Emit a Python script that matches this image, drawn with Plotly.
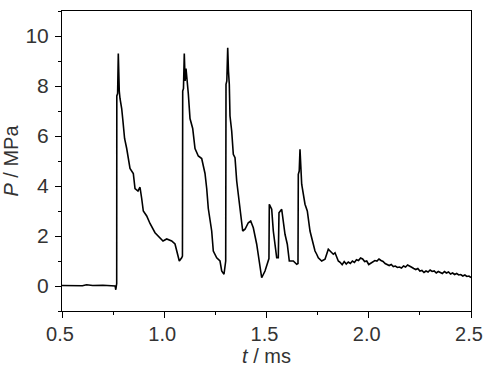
import plotly.graph_objects as go

# time (ms) and pressure (MPa)
t_ms = [
    0.50, 0.55, 0.60, 0.62, 0.65, 0.70, 0.74, 0.760, 0.763, 0.766, 0.7675,
    0.768, 0.772, 0.7753, 0.777, 0.7787, 0.780, 0.7836, 0.7919, 0.798, 0.8032, 0.806,
    0.8164, 0.825, 0.8325, 0.8487, 0.857, 0.8716, 0.8814, 0.8897, 0.8976, 0.9142,
    0.9303, 0.9548, 0.9792, 0.9939, 1.012, 1.0364, 1.0526, 1.0609, 1.0736, 1.0853, 1.089,
    1.0902, 1.094, 1.098, 1.102, 1.1064, 1.1127, 1.1176, 1.1259, 1.1391, 1.1504, 1.1665,
    1.1831, 1.1993, 1.2076, 1.2154, 1.232, 1.2399, 1.2565, 1.2726, 1.2809, 1.2922, 1.3005,
    1.302, 1.306, 1.3103, 1.314, 1.3181, 1.3215, 1.3298, 1.3377, 1.346, 1.3543, 1.3704,
    1.3836, 1.3949, 1.411, 1.4227, 1.4355, 1.4521, 1.4648, 1.4765, 1.4927, 1.5088, 1.5120,
    1.5137, 1.5254, 1.5333, 1.5416, 1.5499, 1.5577,
    1.5611, 1.5743, 1.5822, 1.5905, 1.6017, 1.6115, 1.6311, 1.6477, 1.654,
    1.6555, 1.660, 1.6638, 1.6721, 1.6883, 1.6995, 1.7127, 1.7289, 1.7372, 1.7455, 1.7533,
    1.7699, 1.7861, 1.8022, 1.8188, 1.8267, 1.835, 1.8511,
    1.86, 1.87, 1.88, 1.89, 1.90, 1.91, 1.92, 1.93, 1.94, 1.95, 1.96, 1.97, 1.98, 1.99,
    2.00, 2.01, 2.02, 2.03, 2.04, 2.05, 2.06, 2.07, 2.08, 2.09, 2.10, 2.11, 2.12, 2.13,
    2.14, 2.15, 2.16, 2.17, 2.18, 2.19, 2.20, 2.21, 2.22, 2.23, 2.24, 2.25, 2.26, 2.27,
    2.28, 2.29, 2.30, 2.31, 2.32, 2.33, 2.34, 2.35, 2.36, 2.37, 2.38, 2.39, 2.40, 2.41,
    2.42, 2.43, 2.44, 2.45, 2.46, 2.47, 2.48, 2.49, 2.50,
]
p_mpa = [
    0.02, 0.03, 0.01, 0.05, 0.02, 0.03, 0.02, 0.0, -0.15, 0.05, 0.1,
    7.6, 7.7, 9.3, 8.2, 8.8, 7.8, 7.5, 7.1, 6.6, 6.2, 5.9,
    5.5, 5.0, 4.7, 4.5, 3.9, 3.8, 3.95, 3.5, 3.0, 2.8,
    2.5, 2.13, 1.93, 1.8, 1.88, 1.8, 1.68, 1.4, 1.0, 1.13, 1.2,
    7.8, 7.9, 9.3, 8.2, 8.7, 7.9, 7.7, 6.7, 6.3, 5.5, 5.2,
    5.1, 4.5, 3.9, 3.1, 2.2, 1.4, 1.13, 1.0, 0.6, 0.47, 1.0,
    8.07, 8.2, 9.53, 8.6, 8.07, 6.8, 6.2, 5.27, 5.13, 4.2, 3.13,
    2.2, 2.27, 2.53, 2.6, 2.33, 1.67, 0.87, 0.33, 0.6, 1.0, 1.1,
    3.27, 3.07, 2.2, 1.67, 1.13, 1.13,
    2.93, 3.07, 2.6, 2.07, 1.67, 1.0, 1.0, 0.87, 0.9,
    4.47, 4.6, 5.47, 4.07, 3.27, 3.0, 2.2, 1.67, 1.4, 1.27, 1.13,
    1.0, 1.07, 1.47, 1.33, 1.27, 1.33, 1.0,
    0.95, 0.85, 0.98, 0.88, 0.96, 0.90, 1.00, 0.94, 1.05, 1.02, 1.12, 1.08, 0.98, 1.0,
    0.86, 0.92, 0.95, 1.02, 1.0, 1.08, 1.02, 0.98, 0.9, 0.86, 0.82, 0.86, 0.78, 0.8,
    0.74, 0.76, 0.72, 0.8, 0.76, 0.84, 0.78, 0.75, 0.7, 0.66, 0.7, 0.6, 0.62, 0.54,
    0.6, 0.56, 0.64, 0.58, 0.6, 0.52, 0.58, 0.55, 0.5, 0.58, 0.52, 0.56, 0.48, 0.52,
    0.46, 0.5, 0.44, 0.46, 0.4, 0.44, 0.38, 0.4, 0.34,
]

x_ticks = [0.5, 1.0, 1.5, 2.0, 2.5]
x_ticktext = ["0.5", "1.0", "1.5", "2.0", "2.5"]
y_ticks = [0, 2, 4, 6, 8, 10]
y_ticktext = ["0", "2", "4", "6", "8", "10"]

fig = go.Figure()
fig.add_trace(go.Scatter(x=t_ms, y=p_mpa, mode="lines",
                         line=dict(color="black", width=1.6), showlegend=False))

font_family = "Liberation Sans, Arial, sans-serif"
fig.update_layout(
    width=484, height=368,
    margin=dict(l=62, r=13, t=11, b=57, autoexpand=False),
    paper_bgcolor="white", plot_bgcolor="white",
    font=dict(family=font_family, size=21, color="#333333"),
    xaxis=dict(
        range=[0.5, 2.5], tickvals=x_ticks, ticktext=x_ticktext,
        ticks="outside", ticklen=6, tickwidth=1, tickcolor="black",
        showline=True, linecolor="black", linewidth=1, mirror=True,
        showgrid=False, zeroline=False, automargin=False,
        tickfont=dict(size=20),
        ticklabelstandoff=-1, ticklabelshift=-2, ticklabeloverflow="allow",
        minor=dict(ticks="outside", ticklen=3, dtick=0.25, tick0=0.5, tickcolor="black", showgrid=False),
        title=dict(text="<i>t</i> / ms", standoff=0, font=dict(size=20)),
    ),
    yaxis=dict(
        range=[-1, 11], tickvals=y_ticks, ticktext=y_ticktext,
        ticks="outside", ticklen=6, tickwidth=1, tickcolor="black",
        showline=True, linecolor="black", linewidth=1, mirror=True,
        showgrid=False, zeroline=False, automargin=False,
        ticklabelstandoff=2, ticklabeloverflow="allow",
        minor=dict(ticks="outside", ticklen=3, dtick=1, tick0=0, tickcolor="black", showgrid=False),
        title=dict(text="<i>P</i> / MPa", standoff=5, font=dict(size=20)),
    ),
)

fig.write_html("out.html", config={"displayModeBar": False},
               post_script="document.body.style.margin='0px';")
